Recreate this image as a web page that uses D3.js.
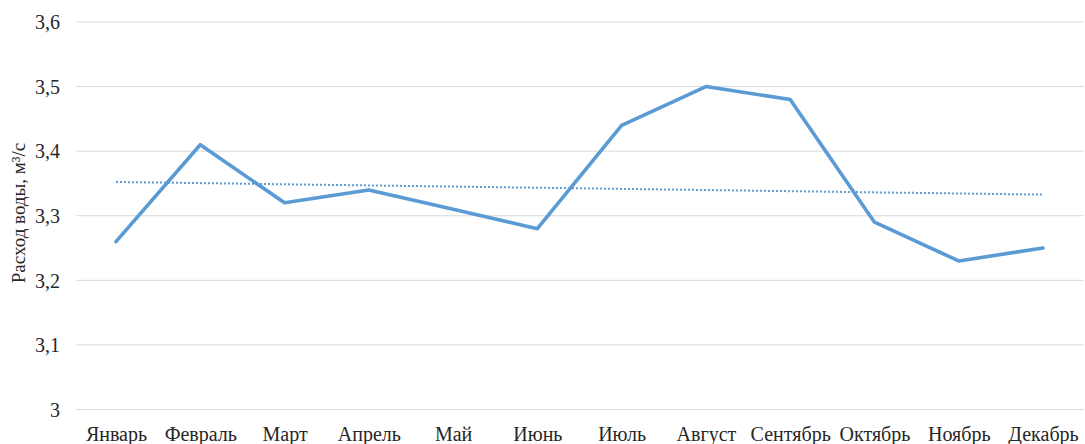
<!DOCTYPE html>
<html><head><meta charset="utf-8">
<script src="https://cdn.jsdelivr.net/npm/d3@7"></script>
<style>body{margin:0;background:#fff}svg{display:block}</style>
</head><body>
<svg id="c" width="1085" height="444"></svg>
<script>
const months = ["Январь","Февраль","Март","Апрель","Май","Июнь","Июль","Август","Сентябрь","Октябрь","Ноябрь","Декабрь"];
const flow = [3.26,3.41,3.32,3.34,3.31,3.28,3.44,3.50,3.48,3.29,3.23,3.25];
const yTicks = [3.0,3.1,3.2,3.3,3.4,3.5,3.6];
const yTitle = "Расход воды, м³/с";

const FONT = "'Liberation Serif'";
const svg = d3.select("#c");
const x = d3.scalePoint().domain(months).range([116,1043]);
const y = d3.scaleLinear().domain([3.0,3.6]).range([409.5,22]);

// grid
svg.append("g").selectAll("line").data(yTicks).join("line")
  .attr("x1",76).attr("x2",1084)
  .attr("y1",d=>y(d)).attr("y2",d=>y(d))
  .attr("stroke","#d9d9d9").attr("stroke-width",1);

// y axis labels
const yAxis = d3.axisLeft(y).tickValues(yTicks).tickSize(0).tickPadding(0)
  .tickFormat(d=>d3.format(".1f")(d).replace(".",",").replace(",0",""));
const ga = svg.append("g").attr("transform","translate(60,0)").call(yAxis);
ga.select(".domain").remove();
ga.selectAll("text").style("font-family",FONT).style("font-size","20px").style("fill","#262626")
  .attr("dy","0.34em");

// x axis labels
const xAxis = d3.axisBottom(x).tickSize(0).tickPadding(0);
const gx = svg.append("g").attr("transform","translate(0,441)").call(xAxis);
gx.select(".domain").remove();
gx.selectAll("text").style("font-family",FONT).style("font-size","20px").style("fill","#262626")
  .attr("y",0).attr("dy",null);

// y title
svg.append("text").attr("transform","translate(25,213) rotate(-90)")
  .attr("text-anchor","middle")
  .style("font-family",FONT).style("font-size","19px").style("fill","#262626")
  .text(yTitle);

// trend (linear regression from data)
const n = flow.length, idx = d3.range(n);
const mx = d3.mean(idx), my = d3.mean(flow);
const slope = d3.sum(idx,i=>(i-mx)*(flow[i]-my))/d3.sum(idx,i=>(i-mx)*(i-mx));
const trend = idx.map(i=>my+slope*(i-mx));
svg.append("path").datum(trend)
  .attr("d", d3.line().x((d,i)=>x(months[i])).y(d=>y(d)))
  .attr("fill","none").attr("stroke","#5b9bd5").attr("stroke-width",2).attr("stroke-dasharray","2,2");

// series
svg.append("path").datum(flow)
  .attr("d", d3.line().x((d,i)=>x(months[i])).y(d=>y(d)))
  .attr("fill","none").attr("stroke","#5b9bd5").attr("stroke-width",3.6)
  .attr("stroke-linejoin","round").attr("stroke-linecap","round");
</script>
</body></html>
